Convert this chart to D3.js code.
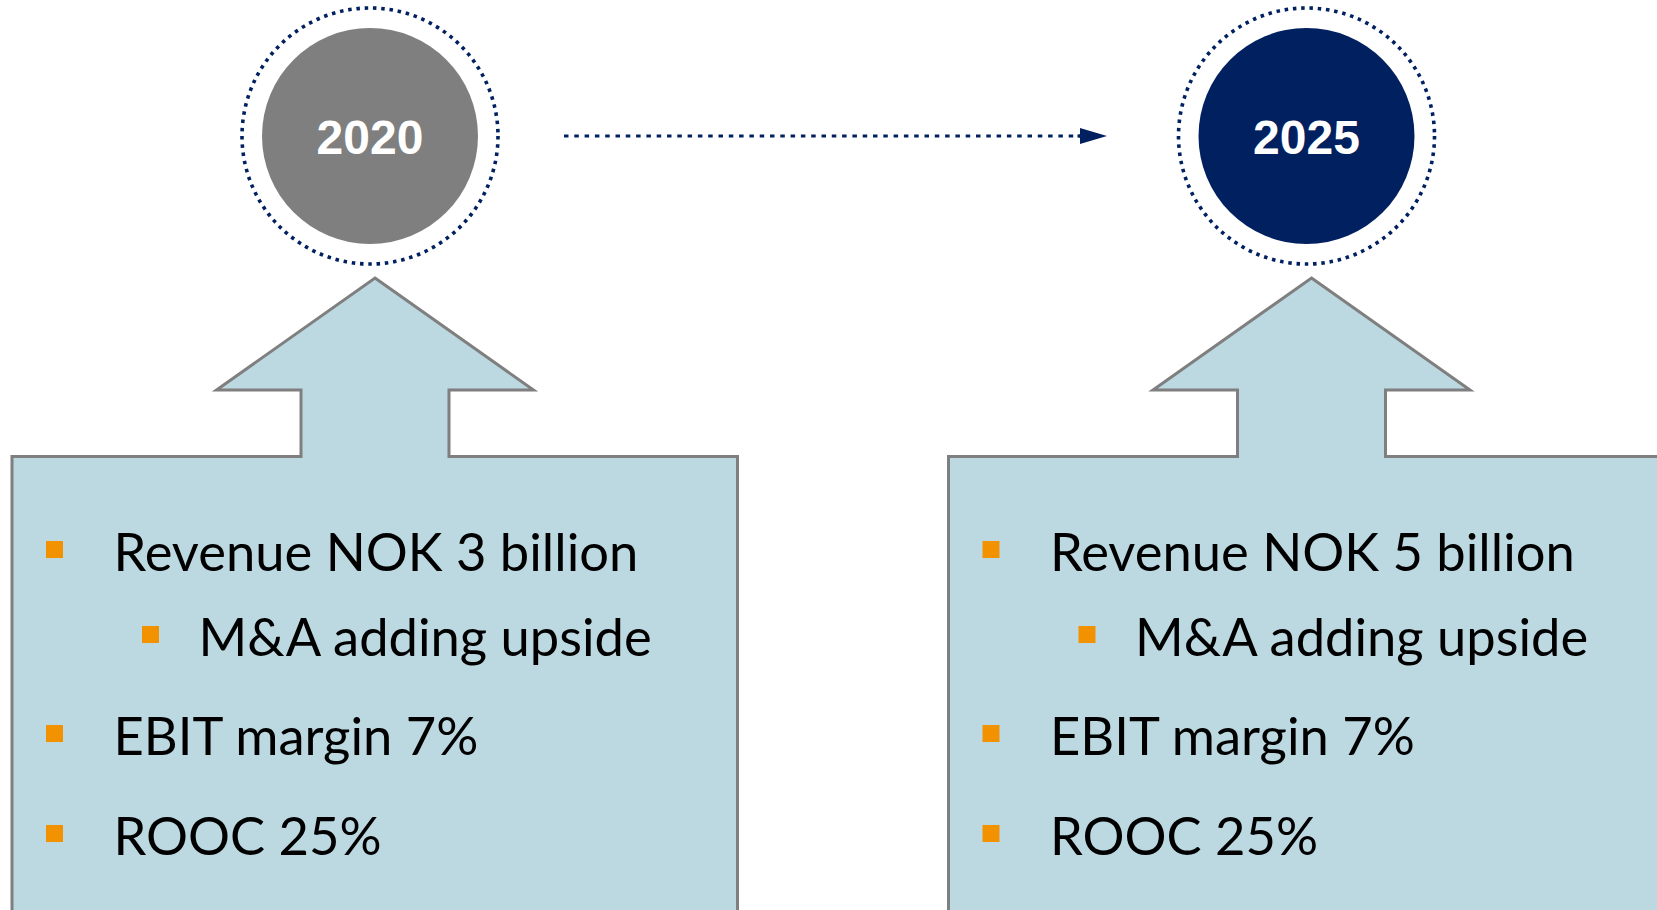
<!DOCTYPE html>
<html>
<head>
<meta charset="utf-8">
<script src="https://cdn.jsdelivr.net/npm/d3@7"></script>
<style>
  html, body { margin: 0; padding: 0; background: #ffffff; overflow: hidden; }
  svg { display: block; }
</style>
</head>
<body>
<svg id="chart" width="1657" height="910"></svg>
<script>
// ---- data ----
const years = ["2020", "2025"];
const revenueTargets = ["Revenue NOK 3 billion", "Revenue NOK 5 billion"];
const subPoints = ["M&A adding upside", "M&A adding upside"];
const marginTargets = ["EBIT margin 7%", "EBIT margin 7%"];
const roocTargets = ["ROOC 25%", "ROOC 25%"];
const bulletLevels = [1, 2, 1, 1];

// ---- styles ----
const NAVY = "#002060";
const GREY = "#7f7f7f";
const BOX_FILL = "#bcd9e2";
const BOX_STROKE = "#7f7f7f";
const ORANGE = "#f39200";

const svg = d3.select("#chart");

// panel centres via a point scale
const x = d3.scalePoint().domain(years).range([370, 1306.5]);
// vertical layout scale for the four text lines
const lineY = d3.scaleOrdinal().domain([0, 1, 2, 3]).range([571, 656, 755, 855]);

const circleY = 136;
const innerR = 108;
const outerR = 128;
const arrowOffset = 5;

// connecting dotted arrow
const defs = svg.append("defs");
defs.append("marker")
  .attr("id", "arrowHead")
  .attr("viewBox", "0 0 27 16")
  .attr("refX", 0).attr("refY", 8)
  .attr("markerUnits", "userSpaceOnUse")
  .attr("markerWidth", 27).attr("markerHeight", 16)
  .attr("orient", "auto")
  .append("path")
  .attr("d", "M0,0 L27,8 L0,16 Z")
  .attr("fill", NAVY);

svg.append("line")
  .attr("x1", x(years[0]) + 194)
  .attr("x2", x(years[1]) - 226.5)
  .attr("y1", circleY).attr("y2", circleY)
  .attr("stroke", NAVY)
  .attr("stroke-width", 3.2)
  .attr("stroke-dasharray", "4.5,5.8");

svg.append("line")
  .attr("x1", x(years[1]) - 229)
  .attr("x2", x(years[1]) - 226.5)
  .attr("y1", circleY).attr("y2", circleY)
  .attr("stroke", NAVY)
  .attr("stroke-width", 3.2)
  .attr("marker-end", "url(#arrowHead)");

// panels
years.forEach((yr, i) => {
  const cx = x(yr);
  const g = svg.append("g");

  // dotted ring
  g.append("circle")
    .attr("cx", cx).attr("cy", circleY).attr("r", outerR)
    .attr("fill", "none")
    .attr("stroke", NAVY)
    .attr("stroke-width", 3.6)
    .attr("stroke-dasharray", "3.5,4.8");

  // filled circle
  g.append("circle")
    .attr("cx", cx).attr("cy", circleY).attr("r", innerR)
    .attr("fill", i === 0 ? GREY : NAVY);

  g.append("text")
    .attr("x", cx).attr("y", circleY + 18)
    .attr("text-anchor", "middle")
    .attr("font-family", "'Liberation Sans', Arial, sans-serif")
    .attr("font-weight", "bold")
    .attr("font-size", 48)
    .attr("fill", "#ffffff")
    .text(yr);

  // up-arrow box shape
  const ax = cx + arrowOffset;
  const pts = [
    [ax, 278],
    [ax + 158.5, 390],
    [ax + 74, 390],
    [ax + 74, 456.5],
    [ax + 362.5, 456.5],
    [ax + 362.5, 930],
    [ax - 363, 930],
    [ax - 363, 456.5],
    [ax - 74, 456.5],
    [ax - 74, 390],
    [ax - 158.5, 390]
  ];
  g.append("path")
    .attr("d", d3.line()(pts) + "Z")
    .attr("fill", BOX_FILL)
    .attr("stroke", BOX_STROKE)
    .attr("stroke-width", 3)
    .attr("stroke-linejoin", "miter");

  // bullet text
  const lines = [revenueTargets[i], subPoints[i], marginTargets[i], roocTargets[i]];
  const left = ax - 363;
  lines.forEach((t, k) => {
    const lvl = bulletLevels[k];
    const tx = left + (lvl === 1 ? 101.5 : 186.5);
    const bx = left + (lvl === 1 ? 34 : 130);
    const by = lineY(k);
    g.append("rect")
      .attr("x", bx).attr("y", by - 30)
      .attr("width", 17).attr("height", 17)
      .attr("fill", ORANGE);
    g.append("text")
      .attr("x", tx).attr("y", by)
      .attr("font-family", "Lato, 'Open Sans', sans-serif")
      .attr("font-size", 52.5)
      .attr("fill", "#000000")
      .text(t);
  });
});
</script>
</body>
</html>
